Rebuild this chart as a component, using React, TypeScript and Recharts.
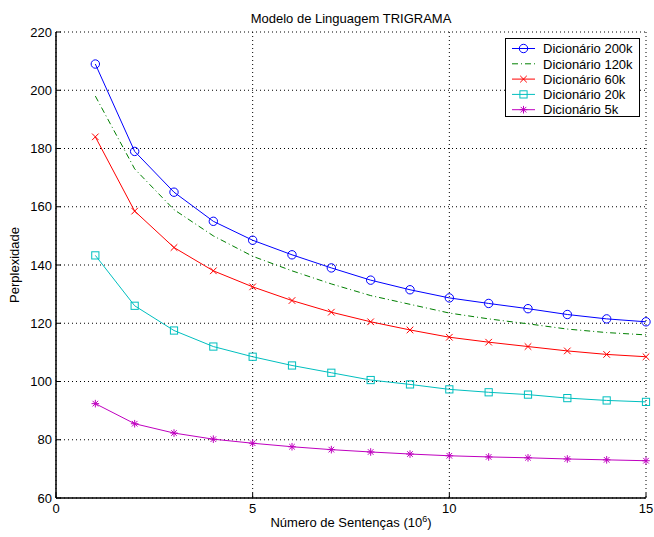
import { LineChart, Line, XAxis, YAxis, CartesianGrid, Legend } from 'recharts';

const FONT = '"Liberation Sans", Arial, Helvetica, sans-serif';

const sentences = [1, 2, 3, 4, 5, 6, 7, 8, 9, 10, 11, 12, 13, 14, 15];
const dict200k = [209, 179, 165, 155, 148.5, 143.5, 139, 134.8, 131.5, 128.7, 126.8, 125, 123, 121.5, 120.5];
const dict120k = [198, 173, 159, 150, 143, 138, 133.5, 129.5, 126.5, 123.5, 121.5, 119.8, 118, 116.8, 116];
const dict60k = [184, 158.5, 146, 138, 132.5, 127.8, 123.8, 120.5, 117.7, 115.2, 113.5, 112, 110.5, 109.3, 108.5];
const dict20k = [143.3, 126, 117.5, 112, 108.5, 105.5, 103, 100.5, 99, 97.3, 96.3, 95.5, 94.3, 93.5, 93];
const dict5k = [92.4, 85.5, 82.3, 80.2, 78.8, 77.6, 76.6, 75.8, 75.1, 74.5, 74.1, 73.8, 73.4, 73.1, 72.8];

const xTicks = [0, 5, 10, 15];
const yTicks = [60, 80, 100, 120, 140, 160, 180, 200, 220];

const series = [
  { key: 'd200', name: 'Dicionário 200k', values: dict200k, color: '#0000ff', marker: 'circle', dash: undefined },
  { key: 'd120', name: 'Dicionário 120k', values: dict120k, color: '#008000', marker: 'none', dash: '6 3 1 3' },
  { key: 'd60', name: 'Dicionário 60k', values: dict60k, color: '#ff0000', marker: 'cross', dash: undefined },
  { key: 'd20', name: 'Dicionário 20k', values: dict20k, color: '#00bfbf', marker: 'square', dash: undefined },
  { key: 'd5', name: 'Dicionário 5k', values: dict5k, color: '#bf00bf', marker: 'star', dash: undefined },
];

const data = sentences.map((s, i) => {
  const row: any = { x: s };
  series.forEach((sr) => { row[sr.key] = sr.values[i]; });
  return row;
});

function Marker({ shape, x, y, color }: { shape: string; x: number; y: number; color: string }) {
  if (shape === 'circle') {
    return <circle cx={x} cy={y} r={4.2} fill="none" stroke={color} strokeWidth={1} />;
  }
  if (shape === 'square') {
    return <rect x={x - 3.6} y={y - 3.6} width={7.2} height={7.2} fill="none" stroke={color} strokeWidth={1} />;
  }
  if (shape === 'cross') {
    const s = 3.3;
    return (
      <g stroke={color} strokeWidth={1}>
        <line x1={x - s} y1={y - s} x2={x + s} y2={y + s} />
        <line x1={x - s} y1={y + s} x2={x + s} y2={y - s} />
      </g>
    );
  }
  if (shape === 'star') {
    const s = 3.8;
    const d = 2.8;
    return (
      <g stroke={color} strokeWidth={1}>
        <line x1={x - s} y1={y} x2={x + s} y2={y} />
        <line x1={x} y1={y - s} x2={x} y2={y + s} />
        <line x1={x - d} y1={y - d} x2={x + d} y2={y + d} />
        <line x1={x - d} y1={y + d} x2={x + d} y2={y - d} />
      </g>
    );
  }
  return null;
}

const makeDot = (shape: string, color: string) => (props: any) => (
  <g key={`${shape}-${props.index}`}>
    <Marker shape={shape} x={props.cx} y={props.cy} color={color} />
  </g>
);

const XTickBottom = ({ x, y, payload }: any) => (
  <g>
    <line x1={x} x2={x} y1={y} y2={y - 5} stroke="#000" />
    <text x={x} y={y + 15} textAnchor="middle" fontSize={13} fontFamily={FONT} fill="#000">{payload.value}</text>
  </g>
);

const XTickTop = ({ x, y }: any) => <line x1={x} x2={x} y1={y} y2={y + 5} stroke="#000" />;

const YTickLeft = ({ x, y, payload }: any) => (
  <g>
    <line x1={x} x2={x + 5} y1={y} y2={y} stroke="#000" />
    <text x={x - 4} y={y + 4.5} textAnchor="end" fontSize={13} fontFamily={FONT} fill="#000">{payload.value}</text>
  </g>
);

const YTickRight = ({ x, y }: any) => <line x1={x} x2={x - 5} y1={y} y2={y} stroke="#000" />;

const XLabel = ({ viewBox }: any) => (
  <text x={viewBox.x + viewBox.width / 2} y={viewBox.y + 29} textAnchor="middle" fontSize={13} fontFamily={FONT} fill="#000">
    Número de Sentenças (10<tspan dy={-5} fontSize={9}>6</tspan><tspan dy={5}>)</tspan>
  </text>
);

const YLabel = ({ viewBox }: any) => {
  const cx = 19;
  const cy = viewBox.y + viewBox.height / 2;
  return (
    <text x={cx} y={cy} transform={`rotate(-90 ${cx} ${cy})`} textAnchor="middle" fontSize={13} fontFamily={FONT} fill="#000">
      Perplexidade
    </text>
  );
};

const LegendBox = () => (
  <svg width={136} height={80} style={{ display: 'block' }}>
    <rect x={0.5} y={0.5} width={134} height={78} fill="#fff" stroke="#000" strokeWidth={1} />
    {series.map((s, i) => {
      const cy = 10.5 + i * 15.3;
      return (
        <g key={s.key}>
          <line x1={7} x2={30} y1={cy} y2={cy} stroke={s.color} strokeWidth={1} strokeDasharray={s.dash} />
          <Marker shape={s.marker} x={18.5} y={cy} color={s.color} />
          <text x={38} y={cy + 4.7} fontSize={13} fontFamily={FONT} fill="#000">{s.name}</text>
        </g>
      );
    })}
  </svg>
);

export default function App() {
  return (
    <div style={{ position: 'absolute', left: 0, top: 0, width: 654, height: 537, background: '#fff', fontFamily: FONT }}>
      <div style={{ position: 'absolute', left: 56, top: 11, width: 590, textAlign: 'center', fontSize: 13, lineHeight: '15px', color: '#000' }}>
        Modelo de Linguagem TRIGRAMA
      </div>
      <LineChart width={654} height={537} data={data} margin={{ top: 32, right: 8, bottom: 0, left: 0 }}>
        <CartesianGrid stroke="#000" strokeDasharray="1 3" strokeWidth={1} />
        <XAxis
          dataKey="x"
          type="number"
          domain={[0, 15]}
          ticks={xTicks}
          height={39}
          tickSize={0}
          tickMargin={0}
          tickLine={false}
          tick={<XTickBottom />}
          axisLine={{ stroke: '#000', strokeWidth: 1.5 }}
          label={<XLabel />}
        />
        <XAxis
          xAxisId="top"
          orientation="top"
          type="number"
          domain={[0, 15]}
          ticks={xTicks}
          height={0}
          tickSize={0}
          tickMargin={0}
          tickLine={false}
          tick={<XTickTop />}
          axisLine={{ stroke: '#000', strokeWidth: 1.5 }}
          allowDataOverflow
        />
        <YAxis
          type="number"
          domain={[60, 220]}
          ticks={yTicks}
          width={56}
          tickSize={0}
          tickMargin={0}
          tickLine={false}
          tick={<YTickLeft />}
          axisLine={{ stroke: '#000', strokeWidth: 1.5 }}
          label={<YLabel />}
        />
        <YAxis
          yAxisId="right"
          orientation="right"
          type="number"
          domain={[60, 220]}
          ticks={yTicks}
          width={0}
          tickSize={0}
          tickMargin={0}
          tickLine={false}
          tick={<YTickRight />}
          axisLine={{ stroke: '#000', strokeWidth: 1.5 }}
          allowDataOverflow
        />
        <Legend
          layout="vertical"
          align="center"
          verticalAlign="middle"
          content={<LegendBox />}
          wrapperStyle={{ position: 'absolute', left: 505, top: 38, width: 136, height: 80 }}
        />
        {series.map((s) => (
          <Line
            key={s.key}
            dataKey={s.key}
            name={s.name}
            type="linear"
            stroke={s.color}
            strokeWidth={1}
            strokeDasharray={s.dash}
            dot={s.marker === 'none' ? false : makeDot(s.marker, s.color)}
            activeDot={false}
            isAnimationActive={false}
          />
        ))}
      </LineChart>
    </div>
  );
}
